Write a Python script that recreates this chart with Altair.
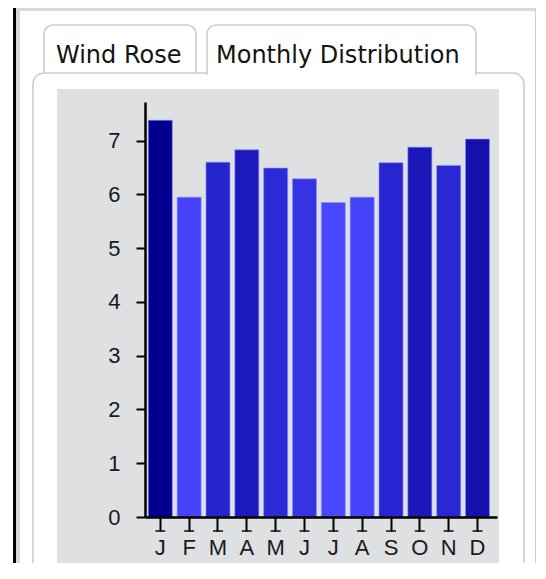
import altair as alt
import pandas as pd

months = ["J", "F", "M", "A", "M ", "J ", "J  ", "A ", "S", "O", "N", "D"]
labels = ["J", "F", "M", "A", "M", "J", "J", "A", "S", "O", "N", "D"]
values = [7.38, 5.95, 6.60, 6.83, 6.49, 6.29, 5.85, 5.95, 6.59, 6.88, 6.54, 7.03]
tab_titles = ["Wind Rose", "Monthly Distribution"]

df = pd.DataFrame({"month": months, "label": labels, "value": values})
one = pd.DataFrame({"_": [0]})

W, H = 352, 415
month_order = months


def rect(x, x2, y, y2, fill, stroke=None, sw=0, radius=0):
    kw = dict(fill=fill)
    if stroke:
        kw.update(stroke=stroke, strokeWidth=sw)
    if radius:
        kw.update(cornerRadiusTopLeft=radius, cornerRadiusTopRight=radius)
    return alt.Chart(one).mark_rect(**kw).encode(
        x=alt.value(x), x2=alt.value(x2), y=alt.value(y), y2=alt.value(y2)
    )


deco = [
    rect(-132, -129, -94, 461, "#000000"),
    rect(-129, -125, -94, 461, "#d9d9d9"),
    rect(-129, 393, -94, -91, "#d9d9d9"),
    rect(390, 393, -94, 461, "#d0d0d0"),
    rect(-101, 51, -77, -12, "#ffffff", "#cdcdcd", 1.6, 9),
    rect(-112, 379, -29, 470, "#ffffff", "#cdcdcd", 1.6, 11),
    rect(62, 331, -77, 10, "#ffffff", "#cdcdcd", 1.6, 9),
    rect(60, 333, -27, 12, "#ffffff"),
    rect(-88, 354, -13, 461, "#dfe0e2"),
]

texts = [
    alt.Chart(one).mark_text(
        text=tab_titles[0], align="left", baseline="alphabetic",
        font="DejaVu Sans", fontSize=24, color="#141414"
    ).encode(x=alt.value(-89), y=alt.value(-39)),
    alt.Chart(one).mark_text(
        text=tab_titles[1], align="left", baseline="alphabetic",
        font="DejaVu Sans", fontSize=24, color="#141414"
    ).encode(x=alt.value(71), y=alt.value(-39)),
]

xscale = alt.Scale(domain=month_order, paddingInner=0.168, paddingOuter=0.187, align=0.306)
yscale = alt.Scale(domain=[0, 7.72], nice=False, zero=True)

bars = alt.Chart(df).mark_bar(
    stroke="#8a8aff", strokeWidth=1, strokeOpacity=0.6
).encode(
    x=alt.X("month:N", sort=month_order, scale=xscale,
            axis=alt.Axis(title=None, labelAngle=0, labelExpr="replace(datum.label, / /g, '')",
                          domainColor="#000000", domainWidth=2.5,
                          tickColor="#000000", tickWidth=2, tickSize=14,
                          labelFont="Liberation Sans", labelFontSize=22, labelColor="#1a1a1a",
                          labelPadding=6, zindex=1, grid=False)),
    y=alt.Y("value:Q", scale=yscale,
            axis=alt.Axis(title=None, values=[0, 1, 2, 3, 4, 5, 6, 7],
                          domainColor="#000000", domainWidth=2.5,
                          tickColor="#000000", tickWidth=2, tickSize=9,
                          labelFont="Liberation Sans", labelFontSize=22, labelColor="#1a1a1a",
                          labelPadding=16, zindex=1, grid=False)),
    color=alt.Color("value:Q", legend=None,
                    scale=alt.Scale(domain=[5.85, 6.6, 7.38],
                                    range=["#4848ff", "#2525d0", "#000090"])),
)

caps = alt.Chart(df).mark_tick(
    orient="horizontal", color="#000000", thickness=2, size=10
).encode(
    x=alt.X("month:N", sort=month_order, scale=xscale),
    y=alt.value(429),
)

chart = alt.layer(*deco, *texts, bars, caps).properties(
    width=W, height=H,
    autosize=alt.AutoSizeParams(type="none"),
    padding={"left": 137, "top": 94, "right": 39, "bottom": 46},
).configure_view(stroke=None).configure(background="#ffffff")

chart.save("out.html", embed_options={"renderer": "svg", "actions": False})
